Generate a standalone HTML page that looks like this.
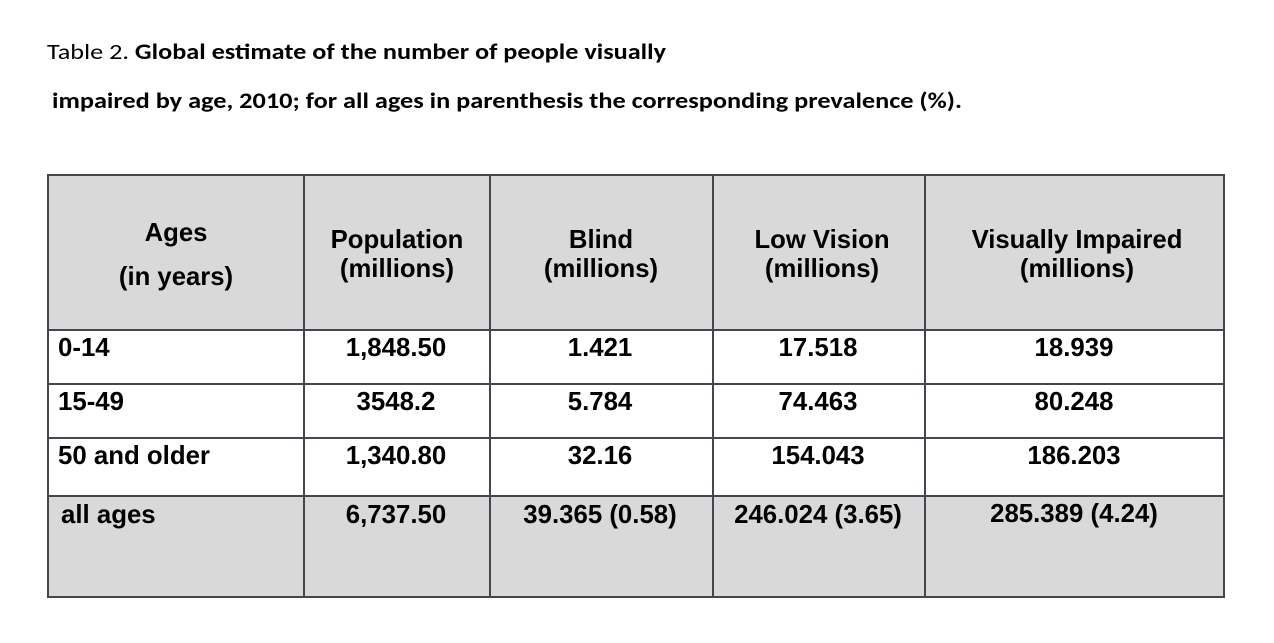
<!DOCTYPE html>
<html><head><meta charset="utf-8"><style>
html,body{margin:0;padding:0;background:#fff;}
svg{display:block;}
text{font-family:"Liberation Sans",Arial,sans-serif;fill:#000;}
.t{font-family:"Carlito","Liberation Sans",sans-serif;font-size:22px;}
.h{font-size:25.7px;font-weight:bold;}
.d{font-size:25.8px;font-weight:bold;}
</style></head><body>
<svg width="1274" height="643" viewBox="0 0 1274 643">
<g>
<text class="t" x="47" y="59" textLength="619" lengthAdjust="spacingAndGlyphs">Table 2. <tspan font-weight="bold">Global estimate of the number of people visually</tspan></text>
<text class="t" x="52" y="108" textLength="910" lengthAdjust="spacingAndGlyphs" font-weight="bold">impaired by age, 2010; for all ages in parenthesis the corresponding prevalence (%).</text>
</g>
<g>
<rect x="48" y="175" width="1176" height="155" fill="#d9d9d9"/>
<rect x="48" y="496" width="1176" height="101" fill="#d9d9d9"/>
</g>
<g stroke="#45454f" stroke-width="2" fill="none">
<rect x="48" y="175" width="1176" height="422"/>
<line x1="48" y1="330" x2="1224" y2="330"/>
<line x1="48" y1="384" x2="1224" y2="384"/>
<line x1="48" y1="438" x2="1224" y2="438"/>
<line x1="48" y1="496" x2="1224" y2="496"/>
<line x1="304" y1="175" x2="304" y2="597"/>
<line x1="490" y1="175" x2="490" y2="597"/>
<line x1="713" y1="175" x2="713" y2="597"/>
<line x1="925" y1="175" x2="925" y2="597"/>
</g>
<g class="h" text-anchor="middle">
<text class="h" x="176" y="241">Ages</text>
<text class="h" x="176" y="285">(in years)</text>
<text class="h" x="397" y="248">Population</text>
<text class="h" x="397" y="277">(millions)</text>
<text class="h" x="601" y="248">Blind</text>
<text class="h" x="601" y="277">(millions)</text>
<text class="h" x="822" y="248">Low Vision</text>
<text class="h" x="822" y="277">(millions)</text>
<text class="h" x="1077" y="248">Visually Impaired</text>
<text class="h" x="1077" y="277">(millions)</text>
</g>
<g>
<text class="d" x="58" y="356">0-14</text>
<text class="d" x="396" y="356" text-anchor="middle">1,848.50</text>
<text class="d" x="600" y="356" text-anchor="middle">1.421</text>
<text class="d" x="818" y="356" text-anchor="middle">17.518</text>
<text class="d" x="1074" y="356" text-anchor="middle">18.939</text>
</g>
<g>
<text class="d" x="58" y="410">15-49</text>
<text class="d" x="396" y="410" text-anchor="middle">3548.2</text>
<text class="d" x="600" y="410" text-anchor="middle">5.784</text>
<text class="d" x="818" y="410" text-anchor="middle">74.463</text>
<text class="d" x="1074" y="410" text-anchor="middle">80.248</text>
</g>
<g>
<text class="d" x="58" y="464">50 and older</text>
<text class="d" x="396" y="464" text-anchor="middle">1,340.80</text>
<text class="d" x="600" y="464" text-anchor="middle">32.16</text>
<text class="d" x="818" y="464" text-anchor="middle">154.043</text>
<text class="d" x="1074" y="464" text-anchor="middle">186.203</text>
</g>
<g>
<text class="d" x="61" y="523">all ages</text>
<text class="d" x="396" y="523" text-anchor="middle">6,737.50</text>
<text class="d" x="600" y="523" text-anchor="middle">39.365 (0.58)</text>
<text class="d" x="818" y="523" text-anchor="middle">246.024 (3.65)</text>
<text class="d" x="1074" y="522" text-anchor="middle">285.389 (4.24)</text>
</g>
</svg>
</body></html>
